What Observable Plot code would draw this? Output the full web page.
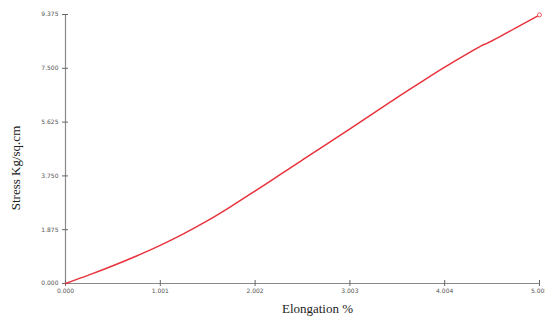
<!DOCTYPE html>
<html>
<head>
<meta charset="utf-8">
<script src="https://cdn.jsdelivr.net/npm/d3@7"></script>
<script src="https://cdn.jsdelivr.net/npm/@observablehq/plot@0.6"></script>
<style>
html, body { margin: 0; padding: 0; overflow: hidden; background: #fff; }
</style>
</head>
<body>
<div id="chart"></div>
<script>
const elongation = [0, 0.25, 0.5, 0.75, 1.0, 1.25, 1.5, 1.75, 2.0, 2.25, 2.5, 2.75, 3.0, 3.25, 3.5, 3.75, 4.0, 4.25, 4.4, 4.45, 4.5, 4.75, 5.005];
const stress = [0, 0.30, 0.62, 0.96, 1.33, 1.74, 2.19, 2.69, 3.22, 3.76, 4.30, 4.84, 5.38, 5.93, 6.48, 7.01, 7.53, 8.02, 8.30, 8.37, 8.45, 8.90, 9.36];
const xTicks = [0, 1.001, 2.002, 3.003, 4.004, 5.005];
const yTicks = [0, 1.875, 3.75, 5.625, 7.5, 9.375];
const xLabel = "Elongation %";
const yLabel = "Stress Kg/sq.cm";

const data = elongation.map((x, i) => ({x, y: stress[i]}));
const last = [data[data.length - 1]];
const serif = "'Liberation Serif', 'DejaVu Serif', serif";
const tickFont = "'DejaVu Sans', sans-serif";

const chart = Plot.plot({
  width: 545,
  height: 324,
  marginLeft: 65,
  marginRight: 6,
  marginTop: 14,
  marginBottom: 41,
  style: {background: "#fff", overflow: "visible"},
  x: {domain: [0, 5.005], axis: null},
  y: {domain: [0, 9.375], axis: null},
  marks: [
    Plot.ruleY([0], {stroke: "#8a8a8a", strokeWidth: 1.2}),
    Plot.ruleX([0], {stroke: "#8a8a8a", strokeWidth: 1.2}),
    Plot.axisX({ticks: xTicks, tickSize: 6, dy: -3, tickFormat: () => "", stroke: "#666", label: null}),
    Plot.axisY({ticks: yTicks, tickSize: 6, dx: 3, tickFormat: () => "", stroke: "#666", label: null}),
    Plot.axisX({ticks: xTicks, tickSize: 0, tickPadding: 5, tickFormat: d3.format(".3f"), fontSize: 6, fontFamily: tickFont, fill: "#555", label: null}),
    Plot.axisY({ticks: yTicks, tickSize: 0, tickPadding: 7, tickFormat: d3.format(".3f"), fontSize: 6, fontFamily: tickFont, fill: "#555", label: null}),
    Plot.line(data, {x: "x", y: "y", stroke: "#e8323c", strokeWidth: 1.5, curve: "monotone-x"}),
    Plot.dot(last, {x: "x", y: "y", r: 2, stroke: "#e8323c", fill: "#fff", strokeWidth: 0.8}),
    Plot.text([xLabel], {frameAnchor: "bottom", dx: 15, dy: 29, fontFamily: serif, fontSize: 13, fill: "#222"}),
    Plot.text([yLabel], {frameAnchor: "left", textAnchor: "middle", rotate: -90, dx: -50, dy: 19, fontFamily: serif, fontSize: 13, fill: "#222"})
  ]
});
document.getElementById("chart").appendChild(chart);
</script>
</body>
</html>
